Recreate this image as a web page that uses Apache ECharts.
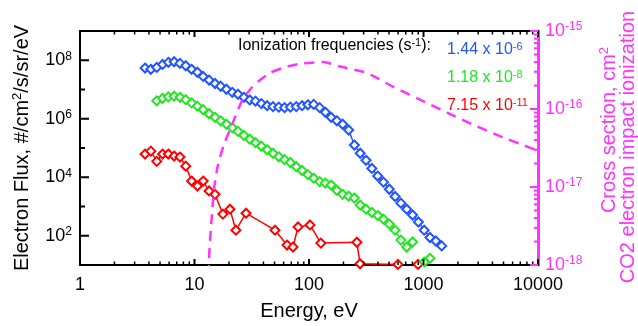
<!DOCTYPE html>
<html><head><meta charset="utf-8">
<script src="https://cdn.jsdelivr.net/npm/echarts@6/dist/echarts.min.js"></script>
<style>html,body{margin:0;padding:0;background:#fff}#c{width:638px;height:326px}</style>
</head><body><div id="c"></div>
<script>
// ---------- data ----------
const energyGrid = [3.70, 4.16, 4.68, 5.26, 5.91, 6.64, 7.47, 8.39, 9.43, 10.6, 11.9, 13.4, 15.1, 16.9, 19.0, 21.4, 24.0, 27.0, 30.4, 34.1, 38.4, 43.1, 48.5, 54.5, 61.2, 68.8, 77.4, 87.0, 97.8, 110, 124, 139, 156, 175, 197, 222, 249, 280, 315, 354, 398, 447, 503, 565, 635, 714, 803, 902, 1014, 1140, 1282, 1441];
const fluxBlue = [5.4e7, 4.9e7, 5.7e7, 7.2e7, 8.5e7, 8.9e7, 7.8e7, 6.5e7, 4.9e7, 3.9e7,
  2.8e7, 2.1e7, 1.6e7, 1.29e7, 1.02e7, 8.0e6, 6.9e6, 5.4e6, 4.4e6, 4.0e6,
  3.3e6, 2.8e6, 2.6e6, 2.5e6, 2.4e6, 2.5e6, 2.6e6, 2.8e6, 3.0e6, 3.1e6,
  2.4e6, 1.66e6, 1.12e6, 8.5e5, 6.5e5, 4.1e5, 1.26e5, 6.6e4, 3.8e4, 2.0e4,
  1.1e4, 6.8e3, 3.9e3, 2.2e3, 1.3e3, 810, 510, 295, 155, 87, 66, 45];
const fluxGreen = [null, null, 4.1e6, 5.0e6, 5.6e6, 5.9e6, 5.4e6, 4.5e6, 3.5e6, 2.7e6,
  2.05e6, 1.48e6, 1.12e6, 8.5e5, 6.5e5, 4.9e5, 3.7e5, 2.7e5, 2.0e5, 1.52e5,
  1.15e5, 8.7e4, 6.6e4, 5.0e4, 4.0e4, 3.2e4, 2.3e4, 1.7e4, 1.23e4, 9.3e3,
  7.1e3, 6.3e3, 5.4e3, 3.6e3, 2.6e3, 2.25e3, 1.94e3, 1.12e3, 810, 620,
  490, 370, 250, 155, 71, 41, 61, null, 12.6, 17, null, null];
const energyRed = [3.70, 4.16, 4.68, 5.26, 5.91, 6.64, 7.47, 8.39, 9.43, 10.6, 11.9, 13.4, 15.1, 17.7, 20.4, 23.0, 28.2, 50.5, 64.3, 72.5, 80.2, 102, 127, 262, 279, 598, 750, 896, 1000];
const fluxRed = [6.2e4, 7.8e4, 3.5e4, 6.2e4, 6.2e4, 5.3e4, 4.9e4, 2.4e4, 7.4e3, 5.0e3, 7.4e3, 3.4e3, 2.6e3, 550, 810, 155, 590, 155, 48, 41, 200, 234, 56, 60, 11, 10.5, 3, 10.5, 3];
const energyXsec = [13.3, 13.4, 13.9, 14.8, 16.0, 18.1, 21.3, 26.0, 30.6, 35.2, 45.6, 64.3, 88.6, 133, 187, 321, 542, 932, 1604, 2706, 4656, 8017, 10000];
const crossSection = [1e-19, 1.2e-18, 2.9e-18, 9.3e-18, 1.9e-17, 3.5e-17, 6.3e-17, 1.28e-16, 1.78e-16, 2.2e-16, 2.9e-16, 3.5e-16, 3.85e-16, 4.0e-16, 3.5e-16, 2.9e-16, 1.93e-16, 1.32e-16, 9.0e-17, 6.3e-17, 4.5e-17, 3.3e-17, 2.95e-17];

const xTickLabels = ['1', '10', '100', '1000', '10000'];
const xMajorTicks = [1, 10, 100, 1000, 10000];
const leftLabelExponents = [2, 4, 6, 8];
const leftMajorTicks = [1e2, 1e4, 1e6, 1e8];
const leftMinorTicks = [1e3, 1e5, 1e7];
const rightLabelExponents = [-18, -17, -16, -15];
const rightMajorTicks = [1e-18, 1e-17, 1e-16, 1e-15];
const freqLabels = ['1.44 x 10', '1.18 x 10', '7.15 x 10'];
const freqExponents = ['-6', '-8', '-11'];

// ---------- styles ----------
const FONT = "'Liberation Sans', Arial, Helvetica, sans-serif";
const BLUE = '#2255ff', GREEN = '#22e622', RED = '#ff0000', MAG = '#ff33ff';
const X_MIN = 1, X_MAX = 10000, YL_MIN = 10, YL_MAX = 1e9, YR_MIN = 1e-18, YR_MAX = 1e-15;

const xMinorTicks = [];
[1, 10, 100, 1000].forEach(d => { for (let m = 2; m <= 9; m++) xMinorTicks.push(m * d); });
const rightMinorTicks = [];
[1e-18, 1e-17, 1e-16].forEach(d => { for (let m = 2; m <= 9; m++) rightMinorTicks.push(m * d); });

const supRich = (color, base, sup, baseLH, supLH) => ({
  b: {fontSize: base, lineHeight: baseLH, color: color, fill: color, fontFamily: FONT},
  s: {fontSize: sup, lineHeight: supLH, verticalAlign: 'top', color: color, fill: color, fontFamily: FONT}
});
const exp10 = v => Math.round(Math.log10(v));

const lineSeries = (name, xs, ys, color, z) => ({
  name, type: 'line', xAxisIndex: 0, yAxisIndex: 0, z,
  data: xs.map((x, i) => [x, ys[i]]),
  symbol: 'emptyDiamond', symbolSize: 9, connectNulls: false,
  lineStyle: {color, width: 1.5}, itemStyle: {color, borderWidth: 2},
  clip: true, silent: true
});
// tick marks: thin rect symbols sitting on the axis, pushed inward
const tickSeries = (points, yIdx, side, len, color, w) => {
  const vert = side === 'bottom' || side === 'top';
  const off = side === 'bottom' ? [0, -len / 2] : side === 'top' ? [0, len / 2] : side === 'left' ? [len / 2, 0] : [-len / 2, 0];
  return {type: 'scatter', xAxisIndex: 0, yAxisIndex: yIdx, silent: true, z: 8, clip: false,
    data: points, symbol: 'rect', symbolSize: vert ? [w, len] : [len, w], symbolOffset: off,
    itemStyle: {color: color, opacity: 1}};
};

const chart = echarts.init(document.getElementById('c'), null, {renderer: 'canvas'});
chart.setOption({
  animation: false,
  backgroundColor: '#fff',
  textStyle: {fontFamily: FONT},
  grid: {left: 80, right: 100, top: 31, bottom: 60, containLabel: false},
  xAxis: [{
    type: 'log', logBase: 10, min: X_MIN, max: X_MAX, splitNumber: 4, position: 'bottom',
    axisLine: {onZero: false, lineStyle: {color: '#000', width: 2}},
    axisTick: {show: false}, splitLine: {show: false}, minorTick: {show: false},
    axisLabel: {margin: 11, fontSize: 18, color: '#000', fontFamily: FONT,
      formatter: v => { const i = xMajorTicks.indexOf(Math.round(v)); return i >= 0 ? xTickLabels[i] : ''; }},
    name: 'Energy, eV', nameLocation: 'middle', nameGap: 36,
    nameTextStyle: {fontSize: 20, color: '#000', fontFamily: FONT}
  }, {
    type: 'log', logBase: 10, min: X_MIN, max: X_MAX, splitNumber: 4, position: 'top',
    axisLine: {onZero: false, lineStyle: {color: '#000', width: 2}},
    axisTick: {show: false}, axisLabel: {show: false}, splitLine: {show: false}
  }],
  yAxis: [{
    type: 'log', logBase: 10, min: YL_MIN, max: YL_MAX, splitNumber: 8, position: 'left',
    axisLine: {onZero: false, lineStyle: {color: '#000', width: 2}},
    axisTick: {show: false}, splitLine: {show: false},
    axisLabel: {margin: 8, fontFamily: FONT, color: '#000',
      formatter: v => { const e = exp10(v); return leftLabelExponents.includes(e) ? '{b|10}{s|' + e + '}' : ''; },
      rich: supRich('#000', 18, 12, 20, 15)}
  }, {
    type: 'log', logBase: 10, min: YR_MIN, max: YR_MAX, splitNumber: 3, position: 'right',
    axisLine: {onZero: false, lineStyle: {color: MAG, width: 3}},
    axisTick: {show: false}, splitLine: {show: false},
    axisLabel: {margin: 7, fontFamily: FONT, color: MAG,
      formatter: v => { const e = exp10(v); return rightLabelExponents.includes(e) ? '{b|10}{s|' + e + '}' : ''; },
      rich: supRich(MAG, 18, 12, 20, 15)}
  }],
  series: [
    tickSeries(xMajorTicks.map(v => [v, YL_MIN]), 0, 'bottom', 6, '#000', 2),
    tickSeries(xMinorTicks.map(v => [v, YL_MIN]), 0, 'bottom', 3.5, '#000', 1.5),
    tickSeries(xMajorTicks.map(v => [v, YL_MAX]), 0, 'top', 6, '#000', 2),
    tickSeries(xMinorTicks.map(v => [v, YL_MAX]), 0, 'top', 3.5, '#000', 1.5),
    tickSeries(leftMajorTicks.map(v => [X_MIN, v]), 0, 'left', 9, '#000', 2),
    tickSeries(leftMinorTicks.map(v => [X_MIN, v]), 0, 'left', 5, '#000', 2),
    tickSeries(rightMajorTicks.map(v => [X_MAX, v]), 1, 'right', 8, MAG, 2),
    tickSeries(rightMinorTicks.map(v => [X_MAX, v]), 1, 'right', 4, MAG, 2),
    lineSeries('red', energyRed, fluxRed, RED, 3),
    lineSeries('green', energyGrid, fluxGreen, GREEN, 4),
    lineSeries('blue', energyGrid, fluxBlue, BLUE, 5),
    {name: 'cross section', type: 'line', xAxisIndex: 0, yAxisIndex: 1, z: 6, silent: true,
      data: energyXsec.map((x, i) => [x, crossSection[i]]), symbol: 'none', smooth: 0.2, clip: true,
      lineStyle: {color: MAG, width: 2.5, type: [10, 7]}}
  ],
  graphic: [
    {type: 'text', x: 22, y: 148, rotation: Math.PI / 2, silent: true,
      style: {text: '{b|Electron Flux, #/cm}{s|2}{b|/s/sr/eV}', align: 'center', verticalAlign: 'middle',
        textAlign: 'center', textVerticalAlign: 'middle', fill: '#000', rich: supRich('#000', 20, 13, 22, 16)}},
    {type: 'text', x: 609, y: 130, rotation: Math.PI / 2, silent: true,
      style: {text: '{b|Cross section, cm}{s|2}', align: 'center', verticalAlign: 'middle',
        textAlign: 'center', textVerticalAlign: 'middle', fill: MAG, rich: supRich(MAG, 20, 13, 22, 16)}},
    {type: 'text', x: 628, y: 147, rotation: Math.PI / 2, silent: true,
      style: {text: '{b|CO2 electron impact ionization}', align: 'center', verticalAlign: 'middle',
        textAlign: 'center', textVerticalAlign: 'middle', fill: MAG, rich: supRich(MAG, 20, 13, 22, 16)}},
    {type: 'text', x: 238, y: 46, silent: true,
      style: {text: '{b|Ionization frequencies (s}{s|-1}{b|):}', align: 'left', verticalAlign: 'middle',
        textAlign: 'left', textVerticalAlign: 'middle', fill: '#000', rich: supRich('#000', 16, 11, 18, 13)}},
    ...[BLUE, GREEN, RED].map((c, i) => ({type: 'text', x: 447, y: [50, 78, 106][i], silent: true,
      style: {text: '{b|' + freqLabels[i] + '}{s|' + freqExponents[i] + '}', align: 'left', verticalAlign: 'middle',
        textAlign: 'left', textVerticalAlign: 'middle', fill: c, rich: supRich(c, 16, 11, 18, 13)}}))
  ]
});
</script>
</body></html>
